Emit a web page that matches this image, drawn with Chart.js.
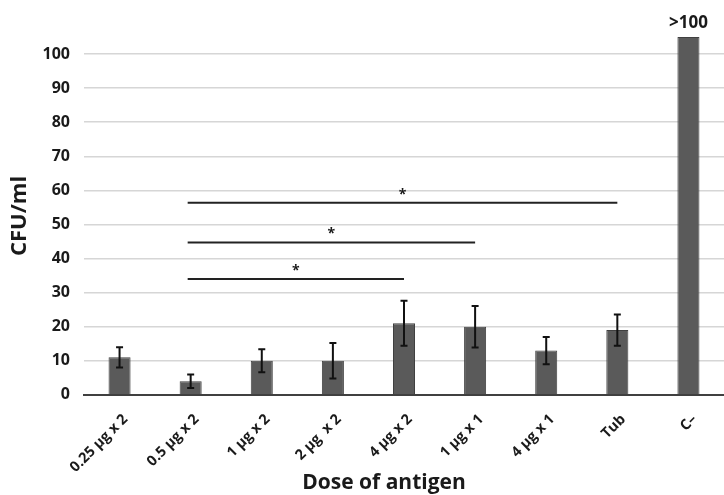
<!DOCTYPE html>
<html lang="en">
<head>
<meta charset="UTF-8">
<title>CFU/ml by dose of antigen</title>
<script src="https://cdn.jsdelivr.net/npm/chart.js"></script>
<style>
  body { margin: 0; background: #fff; }
  #wrap { width: 724px; height: 495px; }
</style>
</head>
<body>
<div id="wrap"><canvas id="grafico"></canvas></div>
<script>
// categories and values
const doses = ['0.25 µg x 2', '0.5 µg x 2', '1 µg x 2', '2 µg  x 2', '4 µg x 2', '1 µg x 1', '4 µg x 1', 'Tub', 'C–'];
const cfu = [11, 4, 10, 10, 21, 20, 13, 19, 105];
const cfuErr = [3, 2, 3.4, 5.2, 6.6, 6.1, 4, 4.6, null];

// significance brackets (index from, index to, height in CFU/ml)
const sigFrom = [1, 1, 1];
const sigTo = [4, 5, 7];
const sigLevel = [34, 44.7, 56.4];
const sigMark = '*';

const overLabel = '>100';
const xTitle = 'Dose of antigen';
const yTitle = 'CFU/ml';
const yMax = 105;

const fontFam = '"Open Sans", "DejaVu Sans", sans-serif';
const ink = '#1a1a1a';

// error bars, significance lines, ">100" label and x title
const extras = {
  id: 'extras',
  afterDatasetsDraw(chart) {
    const ctx = chart.ctx;
    const xs = chart.scales.x;
    const ys = chart.scales.y;
    ctx.save();

    // error bars
    ctx.strokeStyle = '#111';
    ctx.lineWidth = 2;
    cfu.forEach((v, i) => {
      const e = cfuErr[i];
      if (e == null) return;
      const x = xs.getPixelForValue(i);
      const y1 = ys.getPixelForValue(v + e);
      const y2 = ys.getPixelForValue(v - e);
      ctx.beginPath();
      ctx.moveTo(x, y1); ctx.lineTo(x, y2);
      ctx.moveTo(x - 3.5, y1); ctx.lineTo(x + 3.5, y1);
      ctx.moveTo(x - 3.5, y2); ctx.lineTo(x + 3.5, y2);
      ctx.stroke();
    });

    // significance lines
    ctx.strokeStyle = '#222';
    ctx.lineWidth = 2;
    ctx.fillStyle = ink;
    ctx.font = 'bold 14px ' + fontFam;
    ctx.textAlign = 'center';
    ctx.textBaseline = 'middle';
    sigLevel.forEach((lv, k) => {
      const x1 = xs.getPixelForValue(sigFrom[k]) - 3;
      const x2 = xs.getPixelForValue(sigTo[k]);
      const y = ys.getPixelForValue(lv);
      ctx.beginPath();
      ctx.moveTo(x1, y); ctx.lineTo(x2, y);
      ctx.stroke();
      ctx.fillText(sigMark, (x1 + x2) / 2, y - 8);
    });

    // label above the last bar
    const last = cfu.length - 1;
    ctx.font = 'bold 17px ' + fontFam;
    ctx.textBaseline = 'bottom';
    ctx.fillText(overLabel, xs.getPixelForValue(last), ys.getPixelForValue(cfu[last]) - 5);

    // x axis title, a bit left of the plot centre like the original
    ctx.font = 'bold 21px ' + fontFam;
    ctx.textBaseline = 'middle';
    ctx.fillText(xTitle, (chart.chartArea.left + chart.chartArea.right) / 2 - 20, chart.height - 12);

    ctx.restore();
  }
};

new Chart(document.getElementById('grafico'), {
  type: 'bar',
  data: {
    labels: doses,
    datasets: [{
      data: cfu,
      backgroundColor: '#5a5a5a',
      borderColor: '#404040',
      borderWidth: 1,
      categoryPercentage: 1,
      barPercentage: 0.31
    }]
  },
  options: {
    responsive: true,
    maintainAspectRatio: false,
    animation: false,
    layout: { padding: { top: 37, right: 0, bottom: 11, left: 0 } },
    plugins: {
      legend: { display: false },
      tooltip: { enabled: false }
    },
    scales: {
      x: {
        grid: { display: false },
        border: { color: '#404040', width: 2 },
        // rotated labels may hang past the plot edge, don't reserve room for them
        afterFit(scale) { scale.paddingLeft = 0; scale.paddingRight = 0; },
        ticks: {
          color: ink,
          maxRotation: 45,
          minRotation: 45,
          padding: 8,
          labelOffset: 6,
          font: { family: fontFam, size: 14.5, weight: 'bold' }
        }
      },
      y: {
        min: 0,
        max: yMax,
        afterFit(scale) { scale.width = 84; },
        grid: { color: '#d6d6d6', lineWidth: 1.5, drawTicks: false },
        border: { display: false },
        ticks: {
          stepSize: 10,
          includeBounds: false,
          padding: 14,
          color: ink,
          font: { family: fontFam, size: 16, weight: 'bold' }
        },
        title: {
          display: true,
          text: yTitle,
          color: ink,
          padding: { top: 7, bottom: 8 },
          font: { family: fontFam, size: 22, weight: 'bold' }
        }
      }
    }
  },
  plugins: [extras]
});
</script>
</body>
</html>
